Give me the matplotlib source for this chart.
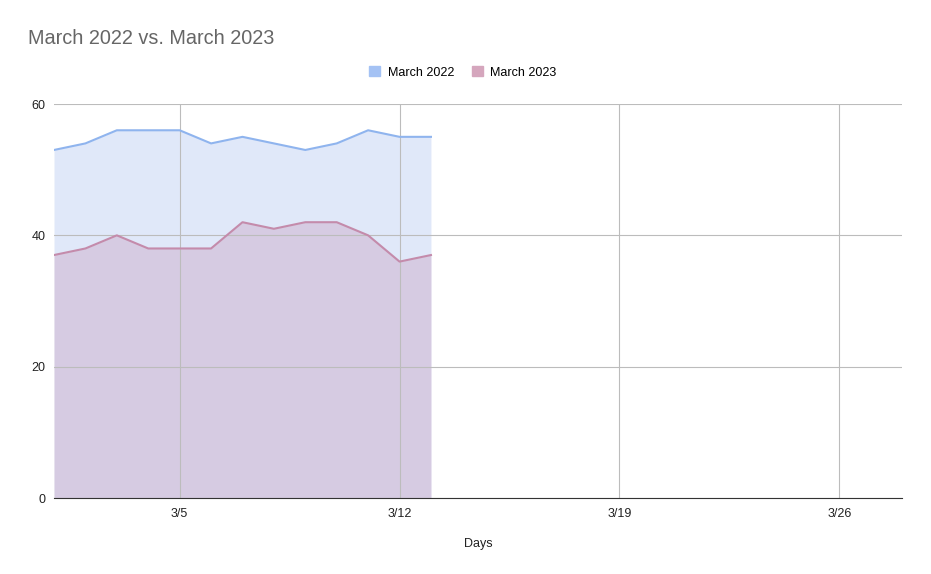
import numpy as np
import matplotlib.pyplot as plt

plt.rcParams['font.family'] = ['Liberation Sans', 'DejaVu Sans']

days = list(range(1, 14))
march_2022 = [53, 54, 56, 56, 56, 54, 55, 54, 53, 54, 56, 55, 55]
march_2023 = [37, 38, 40, 38, 38, 38, 42, 41, 42, 42, 40, 36, 37]
tick_days = [5, 12, 19, 26]
tick_labels = ['3/5', '3/12', '3/19', '3/26']

blue = '#8fb4ee'
pink = '#c48bab'

fig = plt.figure(figsize=(9.31, 5.74), dpi=100)
ax = fig.add_axes([0.058, 0.1324, 0.911, 0.6864])

ax.fill_between(days, march_2022, color='#e0e8f9', lw=0, zorder=1)
ax.fill_between(days, march_2023, color='#c9a0c0', alpha=0.4, lw=0, zorder=1.5)
ax.plot(days, march_2022, color=blue, lw=1.5, zorder=4)
ax.plot(days, march_2023, color=pink, lw=1.5, zorder=4)

ax.set_xlim(1, 28)
ax.set_ylim(0, 60)
ax.set_yticks([0, 20, 40, 60])
ax.set_xticks(tick_days)
ax.set_xticklabels(tick_labels)
ax.set_axisbelow(False)
ax.grid(True, color='#bcbcbc', lw=0.8, zorder=2)
for s in ['top', 'right', 'left']:
    ax.spines[s].set_visible(False)
ax.spines['bottom'].set_color('#333333')
ax.spines['bottom'].set_zorder(5)
ax.tick_params(length=0, labelsize=9, colors='#222222', pad=7)
ax.tick_params(axis='y', pad=6)
ax.set_xlabel('Days', fontsize=9, color='#222222', labelpad=13)

fig.text(0.030, 0.933, 'March 2022 vs. March 2023', fontsize=14.3, color='#666666', va='center')

h1 = plt.Rectangle((0, 0), 1, 1, color='#a4c2f4')
h2 = plt.Rectangle((0, 0), 1, 1, color='#d5a6bd')
fig.legend([h1, h2], ['March 2022', 'March 2023'], loc='center', bbox_to_anchor=(0.497, 0.874),
           ncol=2, frameon=False, fontsize=9, handlelength=0.9, handleheight=0.9,
           handletextpad=0.6, columnspacing=1.4)

fig.savefig('out.png', dpi=100)
